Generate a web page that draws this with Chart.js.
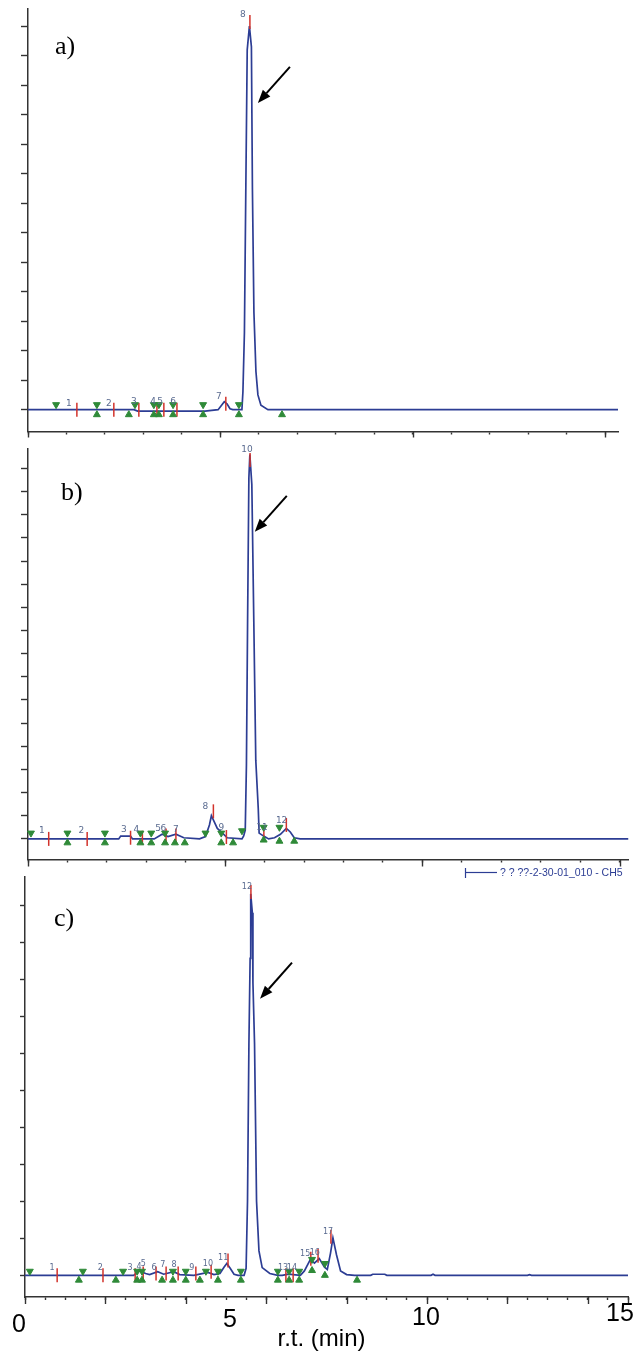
<!DOCTYPE html>
<html><head><meta charset="utf-8">
<script src="https://cdn.jsdelivr.net/npm/chart.js@4.4.0/dist/chart.umd.min.js"></script>
<style>
html,body{margin:0;padding:0;background:#fff;}
body{width:637px;height:1355px;position:relative;overflow:hidden;}
canvas{position:absolute;left:0;}
</style></head><body>
<canvas id="ca" width="637" height="440" style="top:0px"></canvas>
<canvas id="cb" width="637" height="428" style="top:440px"></canvas>
<canvas id="cc" width="637" height="487" style="top:868px"></canvas>
<script>
// ---------- panel a ----------
const aTime   = [0, 2.75, 2.85, 4.6, 4.94, 5.1, 5.17, 5.25, 5.32, 5.558, 5.584, 5.623, 5.662, 5.696, 5.753, 5.805, 5.831, 5.87, 5.922, 5.974, 6.052, 6.234, 15.33];
const aSignal = [0, 0, -0.05, -0.05, 0, 0.27, 0.2, 0.03, 0, 0, 0.6, 2.6, 7.8, 12.2, 13.0, 12.3, 7.5, 3.3, 1.3, 0.5, 0.15, 0, 0];
const aPeakMarkTime  = [1.27, 2.23, 2.88, 3.35, 3.53, 3.87, 5.14, 5.766];
const aPeakMarkLevel = [0, 0, 0, 0, 0, 0, 0.2, 13.14];
const aStartTime  = [0.73, 1.79, 2.78, 3.27, 3.40, 3.77, 4.55, 5.48];
const aStartLevel = [0.17, 0.17, 0.17, 0.17, 0.17, 0.17, 0.17, 0.17];
const aEndTime  = [1.79, 2.62, 3.27, 3.40, 3.77, 4.55, 5.48, 6.60];
const aEndLevel = [-0.17, -0.17, -0.17, -0.17, -0.17, -0.17, -0.17, -0.17];
const aLabelText  = ['1','2','3','4','5','6','7','8'];
const aLabelTime  = [1.06, 2.1, 2.75, 3.25, 3.43, 3.77, 4.96, 5.58];
const aLabelLevel = [0.2, 0.2, 0.27, 0.27, 0.27, 0.27, 0.44, 13.38];
const aYTicks = [0,1,2,3,4,5,6,7,8,9,10,11,12,13];
const aXTicks = [0,1,2,3,4,5,6,7,8,9,10,11,12,13,14,15];
const aXMajor = [0,5,10,15];

// ---------- panel b ----------
const bTime   = [0, 2.3, 2.35, 2.6, 2.65, 3.2, 3.4, 3.55, 3.75, 3.95, 4.35, 4.5, 4.6, 4.65, 4.72, 4.8, 4.9, 5.05, 5.425, 5.468, 5.508, 5.538, 5.568, 5.6, 5.625, 5.675, 5.725, 5.775, 5.838, 5.86, 5.975, 6.1, 6.25, 6.4, 6.55, 6.65, 6.75, 6.9, 15.225];
const bSignal = [0, 0, 0.12, 0.12, 0, 0, 0.2, 0.1, 0.2, 0.05, 0, 0.1, 0.6, 1.0, 0.75, 0.45, 0.3, 0.05, 0, 0.13, 0.38, 3.2, 9.5, 15.6, 16.6, 15.3, 9.4, 3.4, 1.3, 0.25, 0.12, 0, 0.05, 0.2, 0.45, 0.3, 0.05, 0, 0];
const bPeakMarkTime  = [0.525, 1.5, 2.6, 2.9, 3.5, 3.75, 4.7, 5.03, 5.63, 5.98, 6.55];
const bPeakMarkLevel = [0, 0, 0.05, 0.05, 0.15, 0.15, 1.19, 0.08, 16.36, 0.25, 0.6];
const bStartTime  = [0.075, 1.0, 1.95, 2.85, 3.125, 3.475, 4.5, 4.9, 5.425, 5.975, 6.375];
const bStartLevel = [0.25, 0.25, 0.25, 0.25, 0.25, 0.25, 0.25, 0.25, 0.35, 0.5, 0.5];
const bEndTime  = [1.0, 1.95, 2.85, 3.125, 3.475, 3.725, 3.975, 4.9, 5.2, 5.975, 6.375, 6.75];
const bEndLevel = [-0.17, -0.17, -0.17, -0.17, -0.17, -0.17, -0.17, -0.17, -0.17, -0.05, -0.1, -0.1];
const bLabelText  = ['1','2','3','4','5','6','7','8','9','10','11','12'];
const bLabelTime  = [0.35, 1.35, 2.43, 2.75, 3.3, 3.43, 3.75, 4.5, 4.9, 5.55, 5.93, 6.43];
const bLabelLevel = [0.34, 0.34, 0.4, 0.4, 0.45, 0.45, 0.4, 1.4, 0.47, 16.8, 0.5, 0.8];
const bYTicks = [0,1,2,3,4,5,6,7,8,9,10,11,12,13,14,15,16];
const bXTicks = [0,1,2,3,4,5,6,7,8,9,10,11,12,13,14,15];
const bXMajor = [0,5,10,15];

// ---------- panel c ----------
const cSeriesName = '? ? ??-2-30-01_010 - CH5';
const cTime   = [0, 2.7, 2.85, 3.0, 3.1, 3.3, 3.45, 3.7, 3.85, 4.2, 4.55, 4.7, 4.85, 4.95, 5.02, 5.1, 5.2, 5.3, 5.45, 5.5, 5.535, 5.57, 5.6, 5.61, 5.62, 5.655, 5.67, 5.71, 5.76, 5.82, 5.9, 6.09, 6.29, 6.4, 6.55, 6.85, 6.95, 7.1, 7.2, 7.32, 7.45, 7.52, 7.6, 7.66, 7.75, 7.85, 8.0, 8.2, 8.6, 8.65, 8.95, 9.0, 10.1, 10.15, 10.2, 12.5, 12.55, 12.6, 15];
const cSignal = [0, 0, 0.12, 0.05, 0.02, 0.1, 0.03, 0.1, 0.02, 0, 0.08, 0.02, 0.05, 0.22, 0.32, 0.2, 0.03, 0, 0, 0.19, 2.0, 6.25, 8.56, 9.79, 10.3, 9.79, 7.9, 6.25, 2.0, 0.66, 0.21, 0.05, 0, 0, 0.03, 0, 0.12, 0.43, 0.33, 0.45, 0.22, 0.16, 0.6, 1.01, 0.55, 0.12, 0.02, 0, 0, 0.03, 0.03, 0, 0, 0.03, 0, 0, 0.02, 0, 0];
const cPeakMarkTime  = [0.8, 1.94, 2.74, 2.94, 3.26, 3.51, 3.81, 4.25, 4.63, 5.05, 5.62, 6.49, 6.67, 7.11, 7.29, 7.61];
const cPeakMarkLevel = [0, 0, 0, 0.05, 0.05, 0.05, 0.05, 0.05, 0.1, 0.4, 10.35, 0, 0, 0.45, 0.53, 1.04];
const cStartTime  = [0.12, 1.44, 2.44, 2.79, 2.91, 3.68, 4.0, 4.5, 4.8, 5.37, 6.29, 6.57, 6.82, 7.14, 7.46];
const cStartLevel = [0.11, 0.11, 0.11, 0.11, 0.11, 0.11, 0.11, 0.11, 0.11, 0.11, 0.11, 0.11, 0.11, 0.43, 0.32];
const cEndTime  = [1.34, 2.26, 2.79, 2.91, 3.41, 3.68, 4.0, 4.35, 4.8, 5.37, 6.29, 6.57, 6.82, 7.14, 7.46, 8.26];
const cEndLevel = [-0.13, -0.13, -0.13, -0.13, -0.13, -0.13, -0.13, -0.13, -0.13, -0.13, -0.13, -0.13, -0.13, 0.13, 0.0, -0.13];
const cLabelText  = ['1','2','3','4','5','6','7','8','9','10','11','12','13','14','15','16','17'];
const cLabelTime  = [0.67, 1.87, 2.61, 2.84, 2.94, 3.21, 3.43, 3.71, 4.15, 4.55, 4.93, 5.52, 6.42, 6.64, 6.97, 7.21, 7.54];
const cLabelLevel = [0.19, 0.19, 0.19, 0.24, 0.3, 0.19, 0.27, 0.27, 0.19, 0.32, 0.48, 10.5, 0.19, 0.19, 0.58, 0.6, 1.17];
const cYTicks = [0,1,2,3,4,5,6,7,8,9,10];
const cXTicks = [0,0.5,1,1.5,2,2.5,3,3.5,4,4.5,5,5.5,6,6.5,7,7.5,8,8.5,9,9.5,10,10.5,11,11.5,12,12.5,13,13.5,14,14.5,15];
const cXMajor = [0,2,4,6,8,10,12,14,15];
const cXLabels = [0,5,10,15];
const xTitle = 'r.t. (min)';

// ---------- styles ----------
const AXIS = '#333333';
const TRACE = '#2c3d94';
const RED = '#d2322b';
const GREEN = '#2f8a38';
const LABEL = '#5a6b90';
const X_LABEL_SHIFT = [-6, 4, -1, -8];   // pixel nudges of the hand-placed axis numbers
const X_LABEL_RISE = [5, 0, -2, -6];

const pts = (xs, ys) => xs.map((v, i) => ({x: v, y: ys[i]}));

const annot = {
  id: 'annot',
  afterDatasetsDraw(chart, args, o) {
    const {ctx, chartArea: ca, scales: {x, y}} = chart;
    ctx.save();
    // longer major ticks
    ctx.strokeStyle = AXIS; ctx.lineWidth = 1.4;
    o.major.forEach(v => {
      const px = Math.round(x.getPixelForValue(v)) + 0.5;
      ctx.beginPath(); ctx.moveTo(px, ca.bottom); ctx.lineTo(px, ca.bottom + o.majorLen); ctx.stroke();
    });
    // peak number labels
    ctx.font = o.labelFont; ctx.fillStyle = LABEL; ctx.textAlign = 'center'; ctx.textBaseline = 'middle';
    o.labText.forEach((t, i) => ctx.fillText(t, x.getPixelForValue(o.labTime[i]), y.getPixelForValue(o.labLevel[i])));
    // arrow pointing at main peak
    const tx = x.getPixelForValue(o.arrow[0]), ty = y.getPixelForValue(o.arrow[1]);
    const sx = tx + 32, sy = ty - 36;
    const L = Math.hypot(tx - sx, ty - sy), dx = (tx - sx) / L, dy = (ty - sy) / L;
    const bx = tx - dx * 13, by = ty - dy * 13;
    ctx.strokeStyle = '#000'; ctx.fillStyle = '#000'; ctx.lineWidth = 2;
    ctx.beginPath(); ctx.moveTo(sx, sy); ctx.lineTo(bx, by); ctx.stroke();
    ctx.beginPath(); ctx.moveTo(tx, ty); ctx.lineTo(bx - dy * 5, by + dx * 5); ctx.lineTo(bx + dy * 5, by - dx * 5); ctx.closePath(); ctx.fill();
    // panel tag
    ctx.font = '26px "Liberation Serif"'; ctx.fillStyle = '#000'; ctx.textAlign = 'left'; ctx.textBaseline = 'middle';
    ctx.fillText(o.tag, ca.left + o.tagPos[0], ca.top + o.tagPos[1]);
    if (o.bottom) {
      // legend
      const lx = 465, ly = 4.5;
      ctx.strokeStyle = TRACE; ctx.lineWidth = 1.2;
      ctx.beginPath(); ctx.moveTo(lx + 0.5, 0); ctx.lineTo(lx + 0.5, 10); ctx.stroke();
      ctx.beginPath(); ctx.moveTo(lx, ly); ctx.lineTo(lx + 32, ly); ctx.stroke();
      ctx.font = '10.5px "Liberation Sans"'; ctx.fillStyle = TRACE; ctx.textAlign = 'left'; ctx.textBaseline = 'middle';
      ctx.fillText(chart.data.datasets[0].label, lx + 35, ly + 1);
      // axis numbers and title
      ctx.fillStyle = '#000'; ctx.textAlign = 'center'; ctx.textBaseline = 'middle';
      ctx.font = '25px "Liberation Sans"';
      cXLabels.forEach((v, i) => ctx.fillText(String(v), x.getPixelForValue(v) + X_LABEL_SHIFT[i], ca.bottom + 23 + X_LABEL_RISE[i]));
      ctx.font = '24px "Liberation Sans"';
      ctx.fillText(xTitle, (ca.left + ca.right) / 2 - 5, ca.bottom + 42);
    }
    ctx.restore();
  }
};

function build(id, p) {
  return new Chart(document.getElementById(id), {
    type: 'line',
    data: { datasets: [
      { label: p.name, data: pts(p.time, p.signal), borderColor: TRACE, borderWidth: 1.7, pointRadius: 0, tension: 0, order: 4 },
      { type: 'scatter', data: pts(p.markTime, p.markLevel), pointStyle: 'line', pointRotation: 90, pointRadius: 7, pointBorderColor: RED, pointBorderWidth: 1.5, order: 3, clip: false },
      { type: 'scatter', data: pts(p.startTime, p.startLevel), pointStyle: 'triangle', pointRotation: 180, pointRadius: 4, pointBackgroundColor: GREEN, pointBorderColor: GREEN, pointBorderWidth: 1, order: 2, clip: false },
      { type: 'scatter', data: pts(p.endTime, p.endLevel), pointStyle: 'triangle', pointRotation: 0, pointRadius: 4, pointBackgroundColor: GREEN, pointBorderColor: GREEN, pointBorderWidth: 1, order: 1, clip: false }
    ]},
    options: {
      responsive: false, animation: false, events: [],
      layout: { padding: p.padding },
      plugins: { legend: { display: false }, tooltip: { enabled: false }, annot: p.annot },
      scales: {
        x: { type: 'linear', min: 0, max: p.xMax,
             afterBuildTicks: ax => { ax.ticks = p.xTicks.map(v => ({value: v})); },
             ticks: { display: false },
             grid: { display: true, drawOnChartArea: false, drawTicks: true, tickLength: 3, tickColor: AXIS, tickWidth: 1.4 },
             border: { display: true, color: AXIS, width: 1.5 } },
        y: { type: 'linear', min: p.yMin, max: p.yMax,
             afterBuildTicks: ax => { ax.ticks = p.yTicks.map(v => ({value: v})); },
             ticks: { display: false },
             grid: { display: true, drawOnChartArea: false, drawTicks: true, tickLength: p.yTickLen, tickColor: AXIS, tickWidth: 1.4 },
             border: { display: true, color: AXIS, width: 1.5 } }
      }
    },
    plugins: [annot]
  });
}

build('ca', {
  name: 'a', time: aTime, signal: aSignal, markTime: aPeakMarkTime, markLevel: aPeakMarkLevel,
  startTime: aStartTime, startLevel: aStartLevel, endTime: aEndTime, endLevel: aEndLevel,
  xMax: 15.33, yMin: -0.74, yMax: 13.6, xTicks: aXTicks, yTicks: aYTicks, yTickLen: 7,
  padding: { left: 21, right: 19, top: 8, bottom: 4 },
  annot: { major: aXMajor, majorLen: 6, labText: aLabelText, labTime: aLabelTime, labLevel: aLabelLevel,
           labelFont: '9px "DejaVu Sans"', arrow: [5.974, 10.4], tag: 'a)', tagPos: [27, 39] }
});
build('cb', {
  name: 'b', time: bTime, signal: bSignal, markTime: bPeakMarkTime, markLevel: bPeakMarkLevel,
  startTime: bStartTime, startLevel: bStartLevel, endTime: bEndTime, endLevel: bEndLevel,
  xMax: 15.225, yMin: -0.89, yMax: 16.86, xTicks: bXTicks, yTicks: bYTicks, yTickLen: 7,
  padding: { left: 21, right: 0, top: 3, bottom: 3 },
  annot: { major: bXMajor, majorLen: 7, labText: bLabelText, labTime: bLabelTime, labLevel: bLabelLevel,
           labelFont: '9px "DejaVu Sans"', arrow: [5.75, 13.26], tag: 'b)', tagPos: [33, 45] }
});
build('cc', {
  name: cSeriesName, time: cTime, signal: cSignal, markTime: cPeakMarkTime, markLevel: cPeakMarkLevel,
  startTime: cStartTime, startLevel: cStartLevel, endTime: cEndTime, endLevel: cEndLevel,
  xMax: 15, yMin: -0.585, yMax: 10.77, xTicks: cXTicks, yTicks: cYTicks, yTickLen: 5,
  padding: { left: 20, right: 9, top: 2, bottom: 55 },
  annot: { major: cXMajor, majorLen: 7, labText: cLabelText, labTime: cLabelTime, labLevel: cLabelLevel,
           labelFont: '8px "DejaVu Sans"', arrow: [5.846, 7.47], tag: 'c)', tagPos: [29, 43], bottom: true }
});
</script>
</body></html>
